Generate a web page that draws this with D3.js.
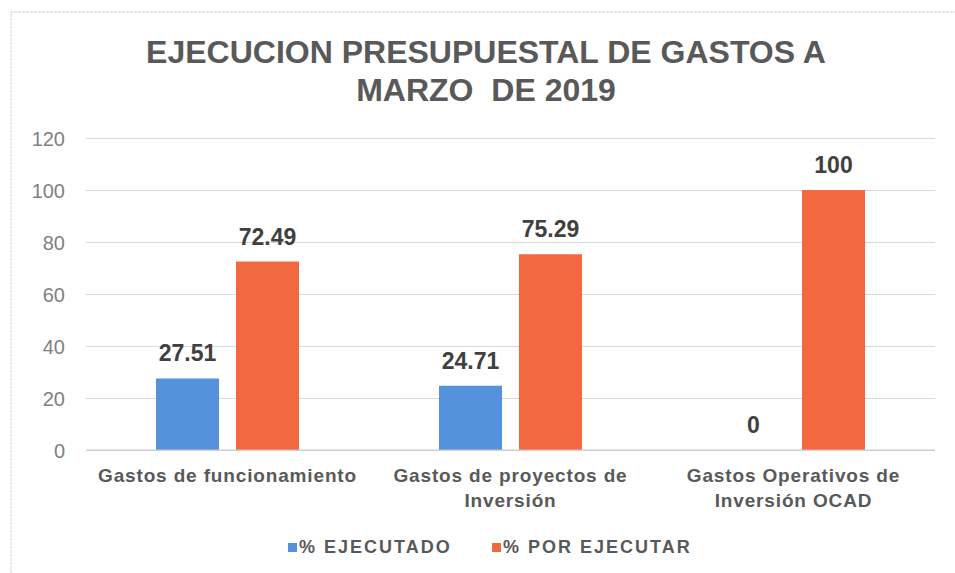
<!DOCTYPE html>
<html>
<head>
<meta charset="utf-8">
<script src="https://cdn.jsdelivr.net/npm/d3@7"></script>
<style>
  html, body { margin: 0; padding: 0; background: #ffffff; }
  svg { display: block; }
</style>
</head>
<body>
<svg id="chart" width="955" height="573"></svg>
<script>
const titleLines = ["EJECUCION PRESUPUESTAL DE GASTOS A", "MARZO  DE 2019"];
const categories = [
  ["Gastos de funcionamiento"],
  ["Gastos de proyectos de", "Inversión"],
  ["Gastos Operativos de", "Inversión OCAD"]
];
const seriesNames = ["% EJECUTADO", "% POR EJECUTAR"];
const ejecutado = [27.51, 24.71, 0];
const porEjecutar = [72.49, 75.29, 100];
const yTicks = [0, 20, 40, 60, 80, 100, 120];
const colors = ["#5592dc", "#f2683f"];

const svg = d3.select("#chart");
const W = 955, H = 573;
const plot = { left: 86, right: 935, top: 138, bottom: 450 };

// frame
svg.append("path")
  .attr("d", `M11,${H} L11,12 L${W},12`)
  .attr("fill", "none")
  .attr("stroke", "#d0d0d0")
  .attr("stroke-width", 1)
  .attr("stroke-dasharray", "3,1");

// title
svg.append("g").selectAll("text").data(titleLines).join("text")
  .attr("x", 486)
  .attr("y", (d, i) => 63 + i * 38)
  .attr("text-anchor", "middle")
  .attr("font-family", "Liberation Sans, Arial, sans-serif")
  .attr("font-weight", "bold")
  .attr("font-size", 32)
  .attr("fill", "#595959")
  .style("white-space", "pre")
  .text(d => d);

const keys = categories.map((c, i) => i);
const x0 = d3.scaleBand().domain(keys).range([plot.left, plot.right]).padding(0);
const x1 = d3.scaleBand().domain([0, 1]).paddingInner(0.2125).paddingOuter(0);
const groupW = 143;
x1.range([(x0.bandwidth() - groupW) / 2, (x0.bandwidth() + groupW) / 2]);
const y = d3.scaleLinear().domain([0, 120]).range([plot.bottom, plot.top]);

// gridlines
const yAxis = d3.axisLeft(y).tickValues(yTicks).tickSize(-(plot.right - plot.left)).tickPadding(21);
const gy = svg.append("g").attr("transform", `translate(${plot.left},0)`).call(yAxis);
gy.select(".domain").remove();
gy.selectAll(".tick line").attr("stroke", "#d9d9d9").attr("stroke-width", 1);
gy.selectAll(".tick text")
  .attr("font-family", "Liberation Sans, Arial, sans-serif")
  .attr("font-size", 20)
  .attr("fill", "#7f7f7f")
  .attr("dy", "0.36em");

// bars
const data = keys.map(i => [ejecutado[i], porEjecutar[i]]);
const groups = svg.append("g").selectAll("g").data(data).join("g")
  .attr("transform", (d, i) => `translate(${x0(i)},0)`);

groups.selectAll("rect").data(d => d.map((v, s) => ({ v, s }))).join("rect")
  .attr("x", d => x1(d.s))
  .attr("width", x1.bandwidth())
  .attr("y", d => y(d.v))
  .attr("height", d => y(0) - y(d.v))
  .attr("fill", d => colors[d.s]);

groups.selectAll("text.val").data(d => d.map((v, s) => ({ v, s }))).join("text")
  .attr("class", "val")
  .attr("x", d => x1(d.s) + x1.bandwidth() / 2)
  .attr("y", d => y(d.v) - 17)
  .attr("text-anchor", "middle")
  .attr("font-family", "Liberation Sans, Arial, sans-serif")
  .attr("font-weight", "bold")
  .attr("font-size", 23)
  .attr("fill", "#404040")
  .text(d => d.v);

// baseline
svg.append("line")
  .attr("x1", plot.left).attr("x2", plot.right)
  .attr("y1", y(0)).attr("y2", y(0))
  .attr("stroke", "#c8c8c8").attr("stroke-width", 1);

// category labels
const cat = svg.append("g").selectAll("text").data(categories).join("text")
  .attr("x", (d, i) => x0(i) + x0.bandwidth() / 2)
  .attr("y", 482)
  .attr("text-anchor", "middle")
  .attr("font-family", "Liberation Sans, Arial, sans-serif")
  .attr("font-weight", "bold")
  .attr("font-size", 19)
  .attr("letter-spacing", 0.85)
  .attr("fill", "#595959");
cat.selectAll("tspan").data(d => d).join("tspan")
  .attr("x", function () { return d3.select(this.parentNode).attr("x"); })
  .attr("dy", (d, i) => i === 0 ? 0 : 25)
  .text(d => d);

// legend
const legendX = [288, 492];
const leg = svg.append("g").selectAll("g").data(seriesNames).join("g")
  .attr("transform", (d, i) => `translate(${legendX[i]},543)`);
leg.append("rect").attr("width", 9).attr("height", 9).attr("y", 0)
  .attr("fill", (d, i) => colors[i]);
leg.append("text")
  .attr("x", 11).attr("y", 9.5)
  .attr("font-family", "Liberation Sans, Arial, sans-serif")
  .attr("font-weight", "bold")
  .attr("font-size", 18)
  .attr("letter-spacing", 2)
  .attr("fill", "#595959")
  .text(d => d);
</script>
</body>
</html>
